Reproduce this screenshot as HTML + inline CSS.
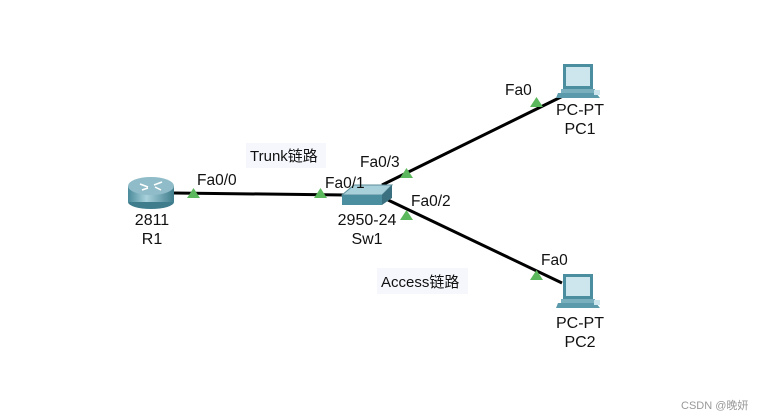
<!DOCTYPE html>
<html><head><meta charset="utf-8"><style>
body{margin:0;background:#fff;}
svg{display:block;font-family:"Liberation Sans","Noto Sans CJK SC",sans-serif;}
</style></head><body>
<svg width="764" height="420" viewBox="0 0 764 420" xmlns="http://www.w3.org/2000/svg">
<defs>
<linearGradient id="rg" x1="0" x2="1" y1="0" y2="0">
<stop offset="0" stop-color="#4a8a9a"/><stop offset="0.4" stop-color="#a9d2dc"/><stop offset="1" stop-color="#3f7d8d"/>
</linearGradient>
</defs>
<rect x="246" y="143" width="80" height="25" fill="#f6f7fc"/>
<text x="250" y="161" font-size="15" fill="#111">Trunk链路</text>
<rect x="377" y="268" width="91" height="26" fill="#f6f7fc"/>
<text x="381" y="287" font-size="15" fill="#111">Access链路</text>
<g stroke="#000" stroke-width="3">
<line x1="174" y1="193" x2="345" y2="195"/>
<line x1="382" y1="185" x2="563" y2="96"/>
<line x1="388" y1="200" x2="562" y2="283"/>
</g>
<!-- router -->
<ellipse cx="151" cy="202" rx="23" ry="7" fill="#3f7d8d"/>
<rect x="128" y="186" width="46" height="16" fill="url(#rg)"/>
<ellipse cx="151" cy="186" rx="23" ry="9" fill="#8fbcc8"/>
<g stroke="#fff" stroke-width="1.5"><line x1="140" y1="184" x2="148" y2="187"/><line x1="154" y1="185" x2="162" y2="182"/><line x1="142" y1="190" x2="148" y2="188"/><line x1="155" y1="187" x2="161" y2="190"/></g>
<!-- switch -->
<polygon points="342,195 354,185 392,185 382,195" fill="#a8d0da" stroke="#5a8d9a"/>
<polygon points="382,195 392,185 392,198 382,205" fill="#3b7080"/>
<rect x="342" y="195" width="40" height="10" fill="#4a8ea0"/>
<!-- PCs -->
<g id="pc">
<rect x="563" y="64" width="30" height="25" fill="#4a8ea0"/>
<rect x="566" y="67" width="24" height="19" fill="#cde6ee"/>
<polygon points="558,93 596,93 600,98 556,98" fill="#5a9aaa"/>
<rect x="561" y="89" width="34" height="4" fill="#7ab0be"/>
<rect x="594" y="90" width="6" height="5" fill="#cde6ee"/>
</g>
<use href="#pc" transform="translate(0,210)"/>
<!-- triangles -->
<g fill="#5cb85c">
<polygon points="187,198 200,198 193.5,188"/>
<polygon points="314,198 327,198 320.5,188"/>
<polygon points="400,178 413,178 406.5,168"/>
<polygon points="400,220 413,220 406.5,210"/>
<polygon points="530,107 543,107 536.5,97"/>
<polygon points="530,280 543,280 536.5,270"/>
</g>
<g font-size="15.5" fill="#111">
<text x="197" y="185">Fa0/0</text>
<text x="325" y="188">Fa0/1</text>
<text x="360" y="167">Fa0/3</text>
<text x="411" y="206">Fa0/2</text>
<text x="505" y="95">Fa0</text>
<text x="541" y="265">Fa0</text>
</g>
<g font-size="16" fill="#111" text-anchor="middle">
<text x="152" y="225">2811</text>
<text x="152" y="244">R1</text>
<text x="367" y="225">2950-24</text>
<text x="367" y="244">Sw1</text>
<text x="580" y="115">PC-PT</text>
<text x="580" y="134">PC1</text>
<text x="580" y="328">PC-PT</text>
<text x="580" y="347">PC2</text>
</g>
<text x="681" y="409" font-size="11" fill="#999">CSDN @晚妍</text>
</svg>
</body></html>
